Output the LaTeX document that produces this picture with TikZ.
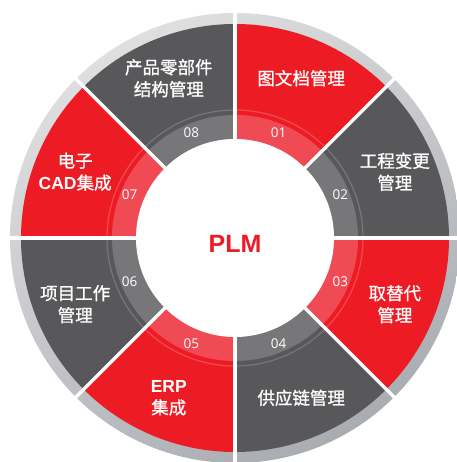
\documentclass[tikz,border=0pt]{standalone}
\usepackage{fontspec}
\setmainfont{Liberation Sans}
\newfontfamily\cjk[FakeBold=1]{Noto Sans CJK SC}
\newfontfamily\numfont{Open Sans}
\usetikzlibrary{calc}

\definecolor{segRed}{HTML}{ED1C24}
\definecolor{segGray}{HTML}{58585A}
\definecolor{bandRed}{HTML}{F04A55}
\definecolor{bandGray}{HTML}{77777A}
\definecolor{ringTop}{HTML}{DFDFE0}
\definecolor{ringBot}{HTML}{A9ADB2}

\begin{document}
\begin{tikzpicture}
  [segLbl/.style={text=white,align=center,font=\cjk\fontsize{17.5}{22}\selectfont},
   numLbl/.style={text=white,font=\numfont\fontsize{13.5}{13.5}\selectfont},
   plmLbl/.style={text=segRed,font=\bfseries\fontsize{25}{25}\selectfont},
   gapLn/.style={white,line width=3.5pt},
   bandLn/.style={line width=1.2pt},
  ]

 \useasboundingbox (-235pt,-224pt) rectangle (221pt,238pt);

 % outer ring
 \shade[top color=ringTop,bottom color=ringBot,shading angle=30] (0,0) circle (225pt);

 % segments
 \foreach \n/\fc/\bc/\lbl [count=\i] in
   {01/segRed/bandRed/{图文档管理},
    02/segGray/bandGray/{工程变更\\管理},
    03/segRed/bandRed/{取替代\\管理},
    04/segGray/bandGray/{供应链管理},
    05/segRed/bandRed/{{\rmfamily\bfseries ERP}\\集成},
    06/segGray/bandGray/{项目工作\\管理},
    07/segRed/bandRed/{电子\\{\rmfamily\bfseries CAD}集成},
    08/segGray/bandGray/{产品零部件\\结构管理}}
 {
  \pgfmathsetmacro\sA{90-45*\i}
  \pgfmathsetmacro\eA{\sA+45}
  \pgfmathsetmacro\mA{\sA+22.5}
  \fill[\fc] (\sA:99pt) arc[start angle=\sA,end angle=\eA,radius=99pt]
    -- (\eA:214pt) arc[start angle=\eA,end angle=\sA,radius=214pt] -- cycle;
  \fill[\bc] (\sA:99pt) arc[start angle=\sA,end angle=\eA,radius=99pt]
    -- (\eA:123pt) arc[start angle=\eA,end angle=\sA,radius=123pt] -- cycle;
  \draw[\bc,bandLn] (\sA:128pt) arc[start angle=\sA,end angle=\eA,radius=128pt];
  \node[numLbl] (num\i) at (\mA:114pt) {\n};
  \node[segLbl] (lbl\i) at (\mA:173pt) {\lbl};
 }

 % centre and white gaps
 \fill[white] (0,0) circle (99pt);
 \foreach \g in {0,45,...,315}
  \draw[gapLn] (\g:97pt) -- (\g:227pt);

 \node[plmLbl] (plm) at (0,-6pt) {PLM};
\end{tikzpicture}
\end{document}
